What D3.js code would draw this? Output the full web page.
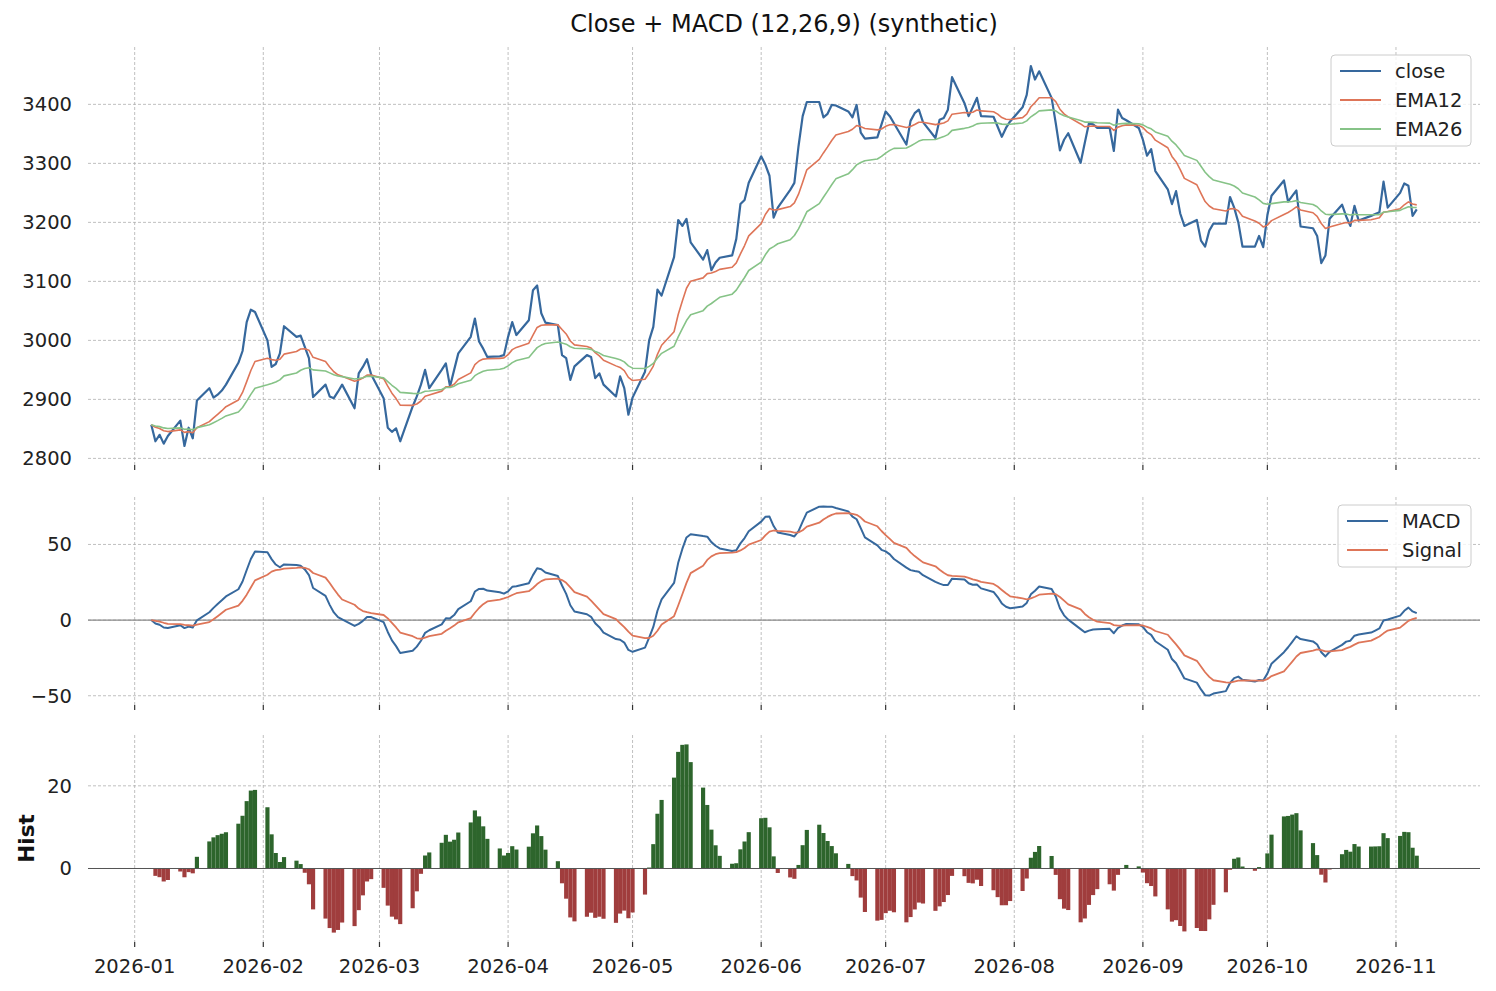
<!DOCTYPE html>
<html>
<head>
<meta charset="utf-8">
<script src="https://d3js.org/d3.v7.min.js"></script>
<style>
    body{ margin:0; background:#fff; }
    svg{ font-family:"DejaVu Sans", sans-serif; }
    .grid{ stroke:#b0b0b0; stroke-width:0.8; stroke-dasharray:3,2; }
    .tick-label{ font-size:19.5px; fill:#222; }
    .legend-box{ fill:#fff; fill-opacity:0.8; stroke:#cccccc; stroke-width:1; }
</style>
</head>
<body>
<div id="container"></div>
<script>
    var chartTitle = "Close + MACD (12,26,9) (synthetic)";
    var firstDay = [2026, 0, 5];   // first trading day, weekdays follow

    // daily closes, one row per week (Mon..Fri)
    var closeValues = [
        2857, 2829, 2840, 2825, 2838,
        2864, 2821, 2852, 2834, 2898,
        2919, 2903, 2908, 2915, 2925,
        2962, 2982, 3031, 3052, 3048,
        3000, 2955, 2960, 2978, 3024,
        3006, 3008, 2989, 2970, 2904,
        2925, 2905, 2902, 2913, 2925,
        2885, 2944, 2955, 2968, 2942,
        2902, 2852, 2845, 2851, 2829,
        2888, 2905, 2925, 2950, 2919,
        2950, 2961, 2922, 2950, 2978,
        3006, 3037, 2998, 2986, 2972,
        2973, 2975, 3006, 3031, 3009,
        3034, 3085, 3093, 3046, 3030,
        3026, 2975, 2970, 2933, 2956,
        2975, 2972, 2936, 2944, 2925,
        2905, 2939, 2919, 2874, 2903,
        2947, 3000, 3023, 3086, 3076,
        3141, 3204, 3194, 3206, 3166,
        3137, 3153, 3119, 3132, 3140,
        3144, 3172, 3231, 3238, 3267,
        3312, 3298, 3279, 3208, 3225,
        3255, 3267, 3329, 3380, 3404,
        3404, 3378, 3384, 3399, 3398,
        3388, 3378, 3399, 3352, 3342,
        3344, 3366, 3388, 3380, 3368,
        3332, 3372, 3385, 3391, 3370,
        3343, 3374, 3377, 3391, 3446,
        3402, 3380, 3395, 3411, 3380,
        3379, 3362, 3345, 3360, 3371,
        3395, 3416, 3465, 3442, 3456,
        3411, 3368, 3322, 3340, 3351,
        3301, 3335, 3368, 3366, 3360,
        3360, 3321, 3391, 3377, 3373,
        3360, 3340, 3313, 3324, 3287,
        3256, 3231, 3253, 3215, 3194,
        3204, 3169, 3159, 3186, 3198,
        3198, 3243, 3225, 3200, 3159,
        3159, 3177, 3158, 3212, 3245,
        3271, 3235, 3245, 3254, 3193,
        3190, 3177, 3131, 3144, 3206,
        3230, 3210, 3194, 3228, 3203,
        3211, 3214, 3217, 3269, 3225,
        3250, 3266, 3262, 3211, 3222
    ];

    var monthTicks = ["2026-01","2026-02","2026-03","2026-04","2026-05","2026-06",
                      "2026-07","2026-08","2026-09","2026-10","2026-11"];
    var priceTicks = [2800, 2900, 3000, 3100, 3200, 3300, 3400];
    var macdTicks = [-50, 0, 50];
    var histTicks = [0, 20];

    var priceNames = ["close", "EMA12", "EMA26"];
    var macdNames = ["MACD", "Signal"];

    var blue = "#36689d", orange = "#de7558", green = "#86c387";
    var barUp = "#2d652c", barDown = "#a03d3d";
    var DAY = 86400000;

    var W = 1496, H = 991, left = 88, right = 1480;

    init();

    function init(){
        var dates = tradingDays(firstDay, closeValues.length);
        var ema12 = ema(closeValues, 12);
        var ema26 = ema(closeValues, 26);
        var macd = ema12.map(function(v, i){ return v - ema26[i]; });
        var signal = ema(macd, 9);
        var hist = macd.map(function(v, i){ return v - signal[i]; });

        var svg = d3.select("#container").append("svg")
            .attr("width", W).attr("height", H);

        var span = dates[dates.length - 1] - dates[0];
        var x = d3.scaleUtc()
            .domain([new Date(+dates[0] - span * 0.05), new Date(+dates[dates.length - 1] + span * 0.05)])
            .range([left, right]);
        var months = monthTicks.map(function(s){
            var p = s.split("-");
            return new Date(Date.UTC(+p[0], +p[1] - 1, 1));
        });

        svg.append("text")
            .attr("x", (left + right) / 2).attr("y", 32)
            .attr("text-anchor", "middle")
            .style("font-size", "24px").style("fill", "#111")
            .text(chartTitle);

        // --- price panel
        var p1 = panel(svg, x, months, 47, 465,
            [closeValues, ema12, ema26], priceTicks, false);
        drawLine(p1, dates, x, p1.y, closeValues, blue, 2.2);
        drawLine(p1, dates, x, p1.y, ema12, orange, 1.6);
        drawLine(p1, dates, x, p1.y, ema26, green, 1.6);
        legend(svg, 1331, 55, 140, priceNames, [blue, orange, green]);

        // --- macd panel
        var p2 = panel(svg, x, months, 497, 705, [macd, signal], macdTicks, false);
        zeroLine(p2, "#8a8a8a");
        drawLine(p2, dates, x, p2.y, macd, blue, 2.0);
        drawLine(p2, dates, x, p2.y, signal, orange, 1.8);
        legend(svg, 1338, 505, 133, macdNames, [blue, orange]);

        // --- histogram panel
        var p3 = panel(svg, x, months, 735, 942, [hist, [0]], histTicks, true);
        var bw = x(new Date(+dates[0] + DAY)) - x(dates[0]);
        p3.g.selectAll(".bar").data(hist).enter().append("rect")
            .attr("class", "bar")
            .attr("x", function(d, i){ return x(dates[i]) - bw / 2; })
            .attr("width", bw)
            .attr("y", function(d){ return p3.y(Math.max(0, d)); })
            .attr("height", function(d){ return Math.abs(p3.y(d) - p3.y(0)); })
            .attr("fill", function(d){ return d >= 0 ? barUp : barDown; });
        zeroLine(p3, "#555555");

        svg.append("text")
            .attr("transform", "translate(34," + ((735 + 942) / 2) + ") rotate(-90)")
            .attr("text-anchor", "middle")
            .style("font-size", "21.5px").style("font-weight", "bold").style("fill", "#111")
            .text("Hist");
    }

    function panel(svg, x, months, top, bottom, series, ticks, labels){
        var all = d3.merge(series);
        var lo = d3.min(all), hi = d3.max(all), pad = (hi - lo) * 0.05;
        var y = d3.scaleLinear().domain([lo - pad, hi + pad]).range([bottom, top]);
        var g = svg.append("g");

        g.selectAll(".hgrid").data(ticks).enter().append("line")
            .attr("class", "grid")
            .attr("x1", left).attr("x2", right)
            .attr("y1", function(d){ return y(d); }).attr("y2", function(d){ return y(d); });
        g.selectAll(".vgrid").data(months).enter().append("line")
            .attr("class", "grid")
            .attr("x1", function(d){ return x(d); }).attr("x2", function(d){ return x(d); })
            .attr("y1", top).attr("y2", bottom);

        // tick marks under the panel
        g.selectAll(".xtick").data(months).enter().append("line")
            .attr("x1", function(d){ return x(d); }).attr("x2", function(d){ return x(d); })
            .attr("y1", bottom).attr("y2", bottom + 5)
            .attr("stroke", "#333").attr("stroke-width", 1.2);

        g.selectAll(".ylab").data(ticks).enter().append("text")
            .attr("class", "tick-label")
            .attr("x", 72).attr("y", function(d){ return y(d); })
            .attr("dy", "0.35em").attr("text-anchor", "end")
            .text(function(d){ return d < 0 ? "\u2212" + Math.abs(d) : String(d); });

        if(labels){
            g.selectAll(".xlab").data(months).enter().append("text")
                .attr("class", "tick-label")
                .attr("x", function(d){ return x(d); }).attr("y", bottom + 31)
                .attr("text-anchor", "middle")
                .text(function(d, i){ return monthTicks[i]; });
        }
        return {g: g, y: y};
    }

    function drawLine(p, dates, x, y, values, color, width){
        var line = d3.line()
            .x(function(d, i){ return x(dates[i]); })
            .y(function(d){ return y(d); });
        p.g.append("path").datum(values)
            .attr("d", line)
            .attr("fill", "none")
            .attr("stroke", color)
            .attr("stroke-width", width)
            .attr("stroke-linejoin", "round");
    }

    function zeroLine(p, color){
        p.g.append("line")
            .attr("x1", left).attr("x2", right)
            .attr("y1", p.y(0)).attr("y2", p.y(0))
            .attr("stroke", color).attr("stroke-width", 1.2);
    }

    function legend(svg, lx, ly, w, names, colors){
        var g = svg.append("g").attr("transform", "translate(" + lx + "," + ly + ")");
        g.append("rect").attr("class", "legend-box")
            .attr("width", w).attr("height", 29 * names.length + 4)
            .attr("rx", 4).attr("ry", 4);
        names.forEach(function(n, i){
            var cy = 16 + i * 29;
            g.append("line").attr("x1", 9).attr("x2", 50)
                .attr("y1", cy).attr("y2", cy)
                .attr("stroke", colors[i]).attr("stroke-width", 2);
            g.append("text").attr("class", "tick-label")
                .attr("x", 64).attr("y", cy).attr("dy", "0.35em")
                .text(n);
        });
    }

    function tradingDays(start, n){
        var out = [];
        var t = Date.UTC(start[0], start[1], start[2]);
        while(out.length < n){
            var wd = new Date(t).getUTCDay();
            if(wd != 0 && wd != 6) out.push(new Date(t));
            t += DAY;
        }
        return out;
    }

    function ema(values, span){
        var a = 2 / (span + 1), out = [];
        for(var i = 0; i < values.length; i++){
            out.push(i == 0 ? values[i] : a * values[i] + (1 - a) * out[i - 1]);
        }
        return out;
    }
</script>
</body>
</html>
